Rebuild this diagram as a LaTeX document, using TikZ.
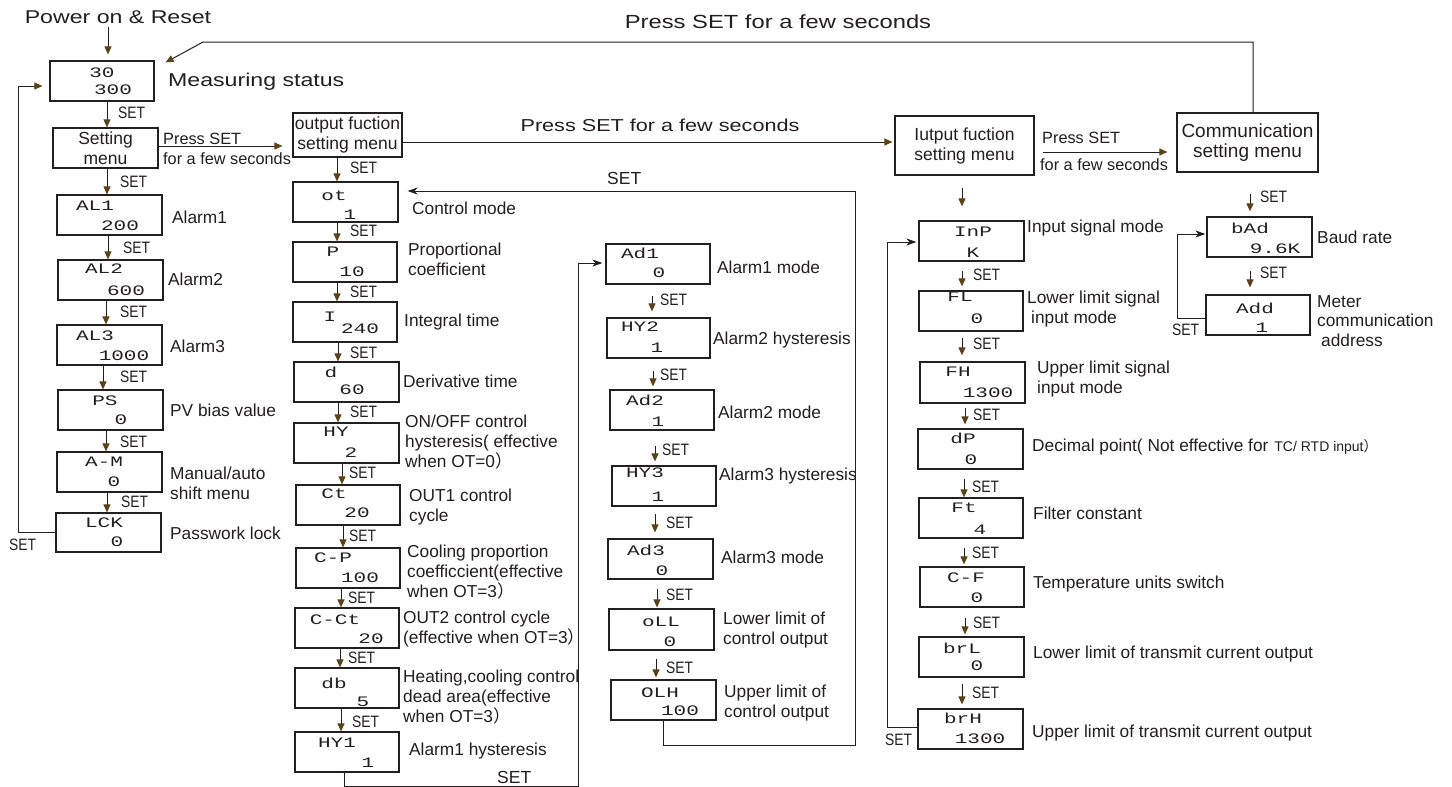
\documentclass[tikz,border=0pt]{standalone}
\usepackage{fontspec}
\setmainfont{Liberation Sans}
\newfontfamily\widefont[FakeStretch=1.25]{Liberation Sans}
\newfontfamily\narrowfont[FakeStretch=0.84]{Liberation Sans}
\newfontfamily\segfont[FakeStretch=1.45]{Liberation Mono}
\newfontfamily\cjkfont{Noto Sans CJK SC}
\newcommand\fwp{{\cjkfont ）}}
\usetikzlibrary{arrows.meta,calc,fit}
\definecolor{ink}{RGB}{35,31,32}
\definecolor{brn}{RGB}{92,66,24}
\tikzset{
  dbox/.style={draw=ink, line width=1.2pt, inner sep=0pt},
  mbox/.style={draw=ink, line width=1.2pt, inner sep=0pt, align=center, text=ink,
    font=\fontsize{17.5}{20}\selectfont},
  seg/.style={inner sep=0pt, text=ink, font=\segfont\fontsize{14.5}{15}\selectfont},
  lab/.style={anchor=west, inner sep=0pt, align=left, text=ink, font=\fontsize{17.3}{19.8}\selectfont},
  smalllab/.style={anchor=west, inner sep=0pt, text=ink, font=\fontsize{16.3}{18}\selectfont},
  setl/.style={anchor=west, inner sep=0pt, text=ink, font=\narrowfont\fontsize{16.5}{18}\selectfont},
  setn/.style={anchor=west, inner sep=0pt, text=ink, font=\fontsize{17.5}{18}\selectfont},
  widetext/.style={inner sep=0pt, text=ink, font=\widefont\fontsize{18.5}{20}\selectfont},
  conn/.style={draw=ink, line width=1pt},
  barrow/.style={conn, -{Triangle[length=8pt,width=7pt,color=brn]}},
  karrow/.style={conn, -{Stealth[length=10pt,width=7pt,inset=3pt]}},
}
% display box: name, x1, y1, x2, y2, line1, (pos1), line2, (pos2)
\newcommand\dbx[9]{%
  \node[dbox, fit={(#2,#3) (#4,#5)}] (#1) {};
  \node[seg] (#1-a) at #7 {#6};
  \node[seg] (#1-b) at #9 {#8};
}
% down arrow: from node, to node, dx, gap start, gap end
\newcommand\dn[5]{%
  \coordinate (s-#1) at ($(#1.south)+(#3,#4)$);
  \draw[barrow] (s-#1) -- ($(s-#1 |- #2.north)+(0,-#5)$);
}
\begin{document}
\begin{tikzpicture}[x=1pt,y=-1pt]
\useasboundingbox (0,0) rectangle (1452,787);
\fill[white] (0,0) rectangle (1452,787);

% ---------- titles ----------
\node[widetext] (pwr) at (118,17) {Power on \& Reset};
\node[widetext, font=\widefont\fontsize{19}{20}\selectfont] (toptxt) at (778,22) {Press SET for a few seconds};
\node[widetext, font=\widefont\fontsize{17.3}{20}\selectfont] (midtxt) at (660,125) {Press SET for a few seconds};

% ---------- left column ----------
\dbx{meas}{50}{61}{154}{101}{30}{(102,73)}{300}{(113,90)}
\node[widetext, anchor=west] (mst) at (168,82) {Measuring status};
\node[mbox, minimum width=105pt, minimum height=40pt] (setm) at (105.5,148) {Setting\\menu};
\dbx{al1}{57}{195}{162}{235}{AL1}{(95,206)}{200}{(120,226)}
\dbx{al2}{58}{260}{163}{300}{AL2}{(104,269)}{600}{(126,291)}
\dbx{al3}{57}{325}{162}{365}{AL3}{(95,336)}{1000}{(124,356)}
\dbx{ps}{58}{390}{163}{430}{PS}{(105,401)}{0}{(121,420)}
\dbx{am}{57}{452}{162}{492}{A-M}{(104,462)}{0}{(114,482)}
\dbx{lck}{56}{513}{161}{552}{LCK}{(104,523)}{0}{(117,542)}

\node[lab] (lal1) at (172,217) {Alarm1};
\node[lab] (lal2) at (168,279) {Alarm2};
\node[lab] (lal3) at (170,346) {Alarm3};
\node[lab] (lps) at (170,410) {PV bias value};
\node[lab] (lam) at (170,483) {Manual/auto\\shift menu};
\node[lab] (llck) at (170,533) {Passwork lock};

\dn{pwr}{meas}{-10}{3}{6}
\dn{meas}{setm}{5}{0}{0}
\dn{setm}{al1}{1.5}{0}{0}
\dn{al1}{al2}{-1.5}{0}{0}
\dn{al2}{al3}{-4.5}{0}{0}
\dn{al3}{ps}{-6.5}{0}{0}
\dn{ps}{am}{-4.5}{0}{0}
\dn{am}{lck}{-2.5}{0}{0}

\node[setl] (s1) at (118,113) {SET};
\node[setl] (s2) at (120,182) {SET};
\node[setl] (s3) at (123,248) {SET};
\node[setl] (s4) at (120,312) {SET};
\node[setl] (s5) at (120,377) {SET};
\node[setl] (s6) at (120,442) {SET};
\node[setl] (s7) at (121,502) {SET};
\node[setl] (s8) at (9,545) {SET};

\draw[barrow] (lck.west) -- ++(-37,0) |- ($(meas.west)+(-7,5)$);

% setting -> output
\coordinate (se) at ($(setm.east)+(0,-2)$);
\node[mbox, minimum width=109pt, minimum height=44pt] (out) at (347.5,135) {output fuction\\setting menu};
\draw[barrow] (se) -- ($(se -| out.west)+(-10,0)$);
\node[smalllab] (pa1) at (163,139) {Press SET};
\node[smalllab] (pa2) at (163,159) {for a few seconds};

% ---------- output column ----------
\dbx{ot}{293}{182}{398}{222}{ot}{(334,196)}{1}{(350,215)}
\dbx{pp}{293}{242}{397}{282}{P}{(333,252)}{10}{(352,272)}
\dbx{ii}{293}{302}{397}{342}{I}{(330,317)}{240}{(360,329)}
\dbx{dd}{294}{362}{399}{402}{d}{(331,372)}{60}{(352,390)}
\dbx{hy}{294}{423}{399}{463}{HY}{(336,432)}{2}{(351,453)}
\dbx{ct}{296}{485}{400}{525}{Ct}{(334,494)}{20}{(357,513)}
\dbx{cp}{296}{548}{400}{588}{C-P}{(333,558)}{100}{(360,578)}
\dbx{cct}{295}{608}{399}{648}{C-Ct}{(335,620)}{20}{(371,639)}
\dbx{db}{295}{668}{399}{708}{db}{(334,683)}{5}{(363,702)}
\dbx{hya}{295}{732}{399}{772}{HY1}{(337,743)}{1}{(368,763)}

\node[lab] (lot) at (412,208) {Control mode};
\node[lab] (lpp) at (408,259) {Proportional\\coefficient};
\node[lab] (lii) at (404,322) {Integral time};
\node[lab] (ldd) at (403,381) {Derivative time};
\node[lab] (lhy) at (405,442) {ON/OFF control\\hysteresis( effective\\when OT=0\fwp};
\node[lab] (lct) at (409,507) {OUT1 control\\cycle};
\node[lab] (lcp) at (407,572) {Cooling proportion\\coefficcient(effective\\when OT=3\fwp};
\node[lab] (lcct) at (403,629) {OUT2 control cycle\\(effective when OT=3\fwp};
\node[lab] (ldb) at (403,697) {Heating,cooling control\\dead area(effective\\when OT=3\fwp};
\node[lab] (lhya) at (409,751) {Alarm1 hysteresis};

\dn{out}{ot}{-10.5}{0}{0}
\dn{ot}{pp}{-8.5}{0}{0}
\dn{pp}{ii}{-8}{0}{0}
\dn{ii}{dd}{-7}{0}{0}
\dn{dd}{hy}{-8.5}{0}{0}
\dn{hy}{ct}{-4.5}{0}{0}
\dn{ct}{cp}{-5}{0}{0}
\dn{cp}{cct}{-7}{0}{0}
\dn{cct}{db}{-7}{0}{0}
\dn{db}{hya}{-6}{0}{0}

\node[setl] (t1) at (350,168) {SET};
\node[setl] (t2) at (350,231) {SET};
\node[setl] (t3) at (350,292) {SET};
\node[setl] (t4) at (350,353) {SET};
\node[setl] (t5) at (350,412) {SET};
\node[setl] (t6) at (349,473) {SET};
\node[setl] (t7) at (349,536) {SET};
\node[setl] (t8) at (348,598) {SET};
\node[setl] (t9) at (348,658) {SET};
\node[setl] (t10) at (352,722) {SET};

% ---------- alarm column ----------
\dbx{ada}{606}{244}{710}{284}{Ad1}{(640,253)}{0}{(659,273)}
\dbx{hyb}{607}{318}{710}{358}{HY2}{(640,327)}{1}{(657,348)}
\dbx{adb}{610}{390}{714}{430}{Ad2}{(645,400)}{1}{(658,422)}
\dbx{hyc}{612}{466}{716}{506}{HY3}{(645,473)}{1}{(658,497)}
\dbx{adc}{608}{539}{713}{579}{Ad3}{(646,550)}{0}{(662,571)}
\dbx{oll}{609}{609}{714}{650}{oLL}{(661,622)}{0}{(670,642)}
\dbx{olh}{611}{680}{716}{720}{OLH}{(660,693)}{100}{(680,711)}

\node[lab] (lada) at (717,267) {Alarm1 mode};
\node[lab] (lhyb) at (713,340) {Alarm2 hysteresis};
\node[lab] (ladb) at (718,412) {Alarm2 mode};
\node[lab] (lhyc) at (719,476) {Alarm3 hysteresis};
\node[lab] (ladc) at (721,557) {Alarm3 mode};
\node[lab] (loll) at (723,630) {Lower limit of\\control output};
\node[lab] (lolh) at (724,703) {Upper limit of\\control output};

\dn{ada}{hyb}{-6}{11}{6}
\dn{hyb}{adb}{-5.5}{12}{3}
\dn{adb}{hyc}{-7}{15}{4}
\dn{hyc}{adc}{-9}{7}{6}
\dn{adc}{oll}{-3.5}{9}{1}
\dn{oll}{olh}{-5.5}{8}{2}

\node[setl] (u1) at (660,300) {SET};
\node[setl] (u2) at (660,375) {SET};
\node[setl] (u3) at (662,450) {SET};
\node[setl] (u4) at (666,523) {SET};
\node[setl] (u5) at (666,595) {SET};
\node[setl] (u6) at (666,668) {SET};

% loops of the output / alarm columns
\coordinate (c1) at (855,745);
\coordinate (c2) at (855,191);
\draw[karrow] (olh.south) -- (olh.south |- c1) -- (c1) -- (c2) -- ($(ot.east |- c2)+(9,0)$);
\node[setn] (sl1) at (607,178) {SET};
\coordinate (d1) at (578,786.5);
\coordinate (d2) at (578,263);
\coordinate (hb) at ($(hya.south)+(-3,0)$);
\draw[karrow] (hb) -- (hb |- d1) -- (d1) -- (d2) -- ($(ada.west |- d2)+(-3,0)$);
\node[setn] (sl2) at (497,777) {SET};

% ---------- output -> input ----------
\node[mbox, minimum width=139pt, minimum height=59pt] (inp) at (964.5,145.5) {Iutput fuction\\setting menu};
\coordinate (o1) at ($(out.east)+(0,7)$);
\draw[barrow] (o1) -- ($(o1 -| inp.west)+(-2,0)$);

% ---------- input column ----------
\dbx{inpb}{919}{221}{1024}{261}{InP}{(973,232)}{K}{(973,253)}
\dbx{fl}{919}{291}{1023}{331}{FL}{(960,297)}{0}{(977,319)}
\dbx{fh}{920}{362}{1025}{403}{FH}{(958,372)}{1300}{(988,393)}
\dbx{dp}{918}{429}{1023}{469}{dP}{(963,438)}{0}{(971,460)}
\dbx{ft}{919}{498}{1023}{538}{Ft}{(964,508)}{4}{(980,530)}
\dbx{cf}{920}{567}{1024}{607}{C-F}{(966,578)}{0}{(977,598)}
\dbx{brl}{919}{637}{1024}{677}{brL}{(962,648)}{0}{(977,666)}
\dbx{brh}{918}{709}{1023}{749}{brH}{(963,718)}{1300}{(980,739)}

\node[lab] (linp) at (1027,228) {Input signal mode};
\node[lab] (lfl) at (1027,309) {Lower limit signal\\\hspace{4pt}input mode};
\node[lab] (lfh) at (1037,379) {Upper limit signal\\input mode};
\node[lab] (ldp) at (1032,447) {Decimal point( Not effective for\hspace{6pt}{\fontsize{14}{16}\selectfont TC/ RTD input\fwp}};
\node[lab] (lft) at (1033,513) {Filter constant};
\node[lab] (lcf) at (1033,584) {Temperature units switch};
\node[lab] (lbrl) at (1033,654) {Lower limit of transmit current output};
\node[lab] (lbrh) at (1032,733) {Upper limit of transmit current output};

\dn{inp}{inpb}{-2.5}{12}{14}
\dn{inpb}{fl}{-9.5}{9}{4}
\dn{fl}{fh}{-9}{6}{6}
\dn{fh}{dp}{-7.5}{4}{4}
\dn{dp}{ft}{-6.5}{9}{0}
\dn{ft}{cf}{-7}{9}{2}
\dn{cf}{brl}{-7}{10}{2}
\dn{brl}{brh}{-9.5}{6}{4}

\node[setl] (v1) at (973,275) {SET};
\node[setl] (v2) at (973,344) {SET};
\node[setl] (v3) at (973,415) {SET};
\node[setl] (v4) at (972,487) {SET};
\node[setl] (v5) at (972,553) {SET};
\node[setl] (v6) at (973,623) {SET};
\node[setl] (v7) at (972,693) {SET};

\draw[karrow] ($(brh.west)+(0,-2)$) -- ++(-30,0) |- ($(inpb.west)+(-2,1)$);
\node[setl] (v8) at (885,740) {SET};

% ---------- input -> communication ----------
\node[mbox, minimum width=141pt, minimum height=59pt, font=\fontsize{19}{20}\selectfont] (comm) at (1247.5,142.5) {Communication\\setting menu};
\coordinate (i1) at ($(inp.east)+(8,6.5)$);
\draw[barrow] (i1) -- ($(i1 -| comm.west)+(-9,0)$);
\node[smalllab] (pb1) at (1042,138) {Press SET};
\node[smalllab] (pb2) at (1040,165) {for a few seconds};

% ---------- communication column ----------
\dbx{bad}{1207}{217}{1312}{257}{bAd}{(1250,228)}{9.6K}{(1275,249)}
\dbx{add}{1206}{295}{1310}{335}{Add}{(1255,308)}{1}{(1262,328)}
\node[lab] (lbad) at (1317,237) {Baud rate};
\node[lab] (ladd) at (1317,321) {Meter\\communication\\\hspace{4pt}address};
\dn{comm}{bad}{2.5}{21}{5}
\dn{bad}{add}{-9.5}{13}{7}
\node[setl] (w1) at (1260,197) {SET};
\node[setl] (w2) at (1260,273) {SET};
\draw[karrow] ($(add.west)+(0,3)$) -- ++(-28,0) |- ($(bad.west)+(-1,-3)$);
\node[setl] (w3) at (1172,330) {SET};

% ---------- long return loop to measuring status ----------
\coordinate (cn) at ($(comm.north)+(5.5,0)$);
\coordinate (tl) at (203,42);
\draw[barrow] (cn) -- (cn |- tl) -- (tl) -- ($(meas.north east)+(11,2)$);
\end{tikzpicture}
\end{document}
